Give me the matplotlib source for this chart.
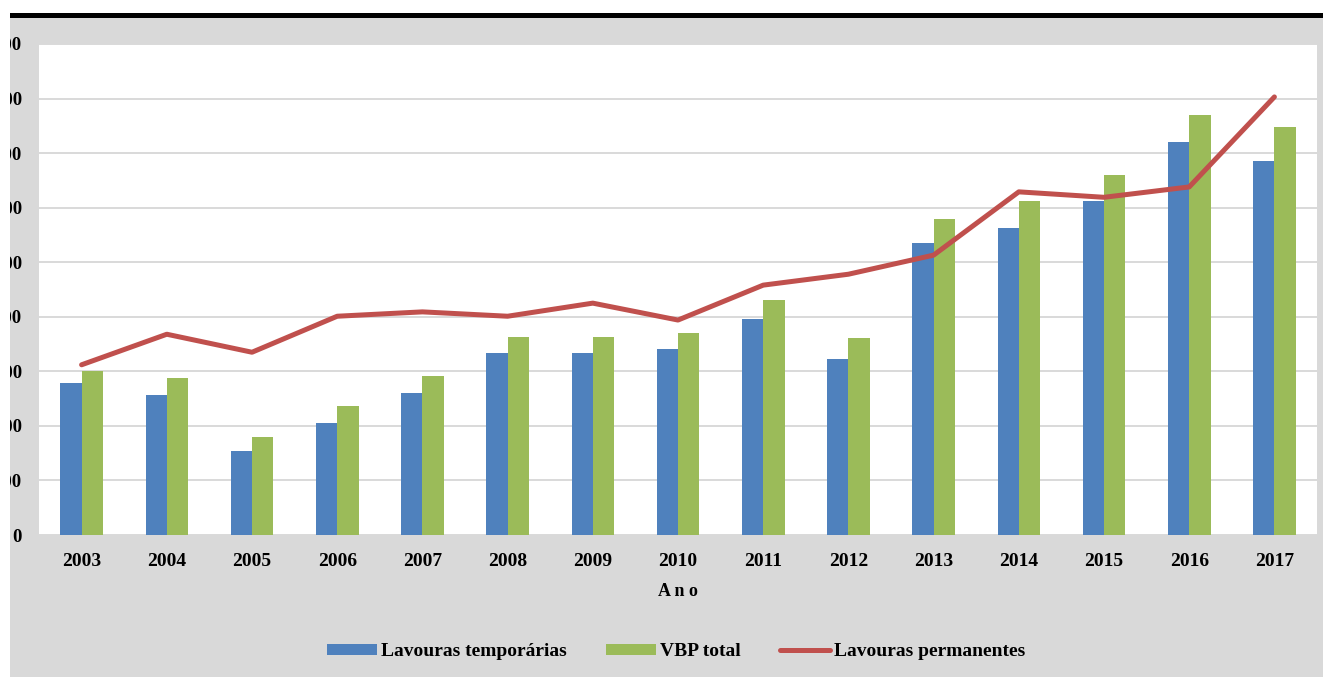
import matplotlib
matplotlib.use("Agg")
import matplotlib.pyplot as plt
from matplotlib.patches import Rectangle
import numpy as np

plt.rcParams['font.family'] = ['Liberation Serif', 'DejaVu Serif']
plt.rcParams['font.weight'] = 'bold'

anos = ['2003', '2004', '2005', '2006', '2007', '2008', '2009', '2010',
        '2011', '2012', '2013', '2014', '2015', '2016', '2017']
lavouras_temporarias = [279, 257, 154, 205, 260, 334, 334, 341, 396, 323,
                        535, 563, 612, 720, 685]
vbp_total = [301, 288, 180, 236, 291, 363, 363, 370, 431, 361,
             579, 612, 660, 770, 748]
lavouras_permanentes = [312, 368, 335, 401, 409, 401, 425, 394, 458, 478,
                        513, 629, 619, 638, 803]
y_ticks = [0, 100, 200, 300, 400, 500, 600, 700, 800, 900]

W, H = 1323, 677
fig = plt.figure(figsize=(W / 100, H / 100), dpi=100)
fig.patch.set_facecolor('#d9d9d9')

ax = fig.add_axes([39 / W, 1 - 535 / H, (1317 - 39) / W, (535 - 44) / H])
ax.set_facecolor('white')

x = np.arange(len(anos))
bw = 0.25
b1 = ax.bar(x - bw / 2, lavouras_temporarias, width=bw, color='#4f81bd',
            label='Lavouras temporárias', zorder=2)
b2 = ax.bar(x + bw / 2, vbp_total, width=bw, color='#9bbb59',
            label='VBP total', zorder=2)
l1, = ax.plot(x, lavouras_permanentes, color='#c0504d', linewidth=3.6,
              solid_capstyle='round', label='Lavouras permanentes', zorder=3)

ax.set_xlim(-0.5, len(anos) - 0.5)
ax.set_ylim(0, 900)
ax.set_yticks(y_ticks)
ax.set_yticklabels([str(v) for v in y_ticks])
ax.set_xticks(x)
ax.set_xticklabels(anos)
ax.tick_params(axis='y', length=0, pad=12.2, labelsize=13.5)
ax.tick_params(axis='x', length=0, pad=13, labelsize=14)
ax.grid(axis='y', color='#d9d9d9', linewidth=1.4, zorder=0)
ax.set_axisbelow(True)
for s in ax.spines.values():
    s.set_visible(False)

ax.set_xlabel('A n o', fontsize=13, fontweight='bold', labelpad=9)

fig.legend(handles=[b1, b2, l1], loc='center',
           bbox_to_anchor=(676 / W, 1 - 652 / H), ncol=3,
           frameon=False, fontsize=14, handlelength=2.6, handleheight=0.45,
           handletextpad=0.2, columnspacing=2.0)

# white margin on the left and top, black rule above the panel
fig.add_artist(Rectangle((0, 0), 10 / W, 1, transform=fig.transFigure,
                         facecolor='white', edgecolor='none', zorder=100))
fig.add_artist(Rectangle((0, 1 - 13 / H), 1, 13 / H, transform=fig.transFigure,
                         facecolor='white', edgecolor='none', zorder=100))
fig.add_artist(Rectangle((10 / W, 1 - 18 / H), 1, 5 / H, transform=fig.transFigure,
                         facecolor='black', edgecolor='none', zorder=101))

fig.savefig('out.png', dpi=100, facecolor=fig.get_facecolor())
